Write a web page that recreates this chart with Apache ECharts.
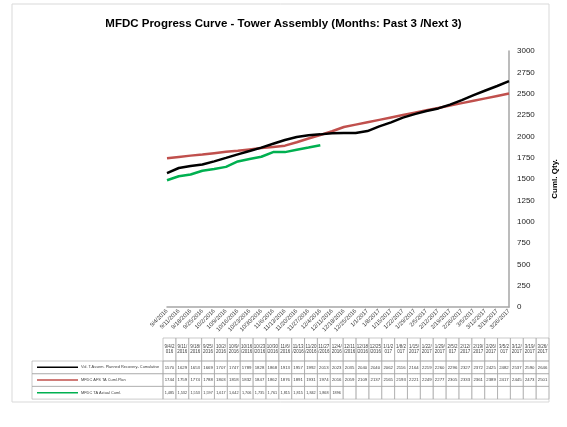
<!DOCTYPE html>
<html>
<head>
<meta charset="utf-8">
<script src="https://cdn.jsdelivr.net/npm/echarts@6/dist/echarts.min.js"></script>
<style>
html, body { margin: 0; padding: 0; background: #fff; }
#chart { width: 567px; height: 427px; }
</style>
</head>
<body>
<div id="chart"></div>
<script>
// weekly dates, past 3 / next 3 months
var weeks = ['9/4/2016', '9/11/2016', '9/18/2016', '9/25/2016', '10/2/2016', '10/9/2016',
  '10/16/2016', '10/23/2016', '10/30/2016', '11/6/2016', '11/13/2016', '11/20/2016',
  '11/27/2016', '12/4/2016', '12/11/2016', '12/18/2016', '12/25/2016', '1/1/2017',
  '1/8/2017', '1/15/2017', '1/22/2017', '1/29/2017', '2/5/2017', '2/12/2017',
  '2/19/2017', '2/26/2017', '3/5/2017', '3/12/2017', '3/19/2017', '3/26/2017'];

var plannedRecovery = [1570, 1629, 1653, 1669, 1707, 1747, 1789, 1828, 1868, 1913, 1957, 1992, 2013, 2023, 2035,
  2040, 2040, 2062, 2116, 2164, 2219, 2260, 2296, 2327, 2372, 2425, 2482, 2537, 2590, 2646];
var afsPlan = [1744, 1759, 1774, 1788, 1803, 1818, 1832, 1847, 1862, 1876, 1891, 1931, 1974, 2016, 2059,
  2109, 2137, 2165, 2193, 2221, 2249, 2277, 2305, 2333, 2361, 2389, 2417, 2445, 2473, 2501];
var actual = [1485, 1532, 1553, 1597, 1617, 1642, 1706, 1735, 1761, 1815, 1815, 1842, 1868, 1896];

var seriesNames = ['Vol. T.Assem. Planned Recovery- Cumulative', 'MFDC AFS TA Cuml.Plan', 'MFDC TA Actual Cuml.'];
var seriesColors = ['#000000', '#c0504d', '#00b050'];

var yTicks = [0, 3000, 250];

var myChart = echarts.init(document.getElementById('chart'));

// data table below the plot
var tblLeft = 163, tblRight = 549, tblTop = 338, headH = 23, rowH = 12.7, keyLeft = 32;
var colW = (tblRight - tblLeft) / weeks.length;
var rows = [plannedRecovery, afsPlan, actual];
var gfx = [];
var lineCol = '#a6a6a6';

// outer chart border
gfx.push({ type: 'rect', shape: { x: 12, y: 4, width: 537, height: 398 }, style: { fill: null, stroke: '#d9d9d9', lineWidth: 1 }, silent: true });

// header cells
weeks.forEach(function (w, i) {
  var x = tblLeft + i * colW;
  gfx.push({ type: 'rect', shape: { x: x, y: tblTop, width: colW, height: headH }, style: { fill: null, stroke: lineCol, lineWidth: 0.6 } });
  gfx.push({ type: 'text', x: x + colW / 2, y: tblTop + headH / 2, style: {
    text: w, width: colW - 1, overflow: 'breakAll', align: 'center', verticalAlign: 'middle',
    fontSize: 4.5, lineHeight: 5.5, fill: '#404040', fontFamily: 'Liberation Sans' } });
});

// value rows + legend key column
rows.forEach(function (vals, r) {
  var y = tblTop + headH + r * rowH;
  gfx.push({ type: 'rect', shape: { x: keyLeft, y: y, width: tblLeft - keyLeft, height: rowH }, style: { fill: null, stroke: lineCol, lineWidth: 0.6 } });
  gfx.push({ type: 'line', shape: { x1: keyLeft + 5, y1: y + rowH / 2, x2: keyLeft + 46, y2: y + rowH / 2 }, style: { stroke: seriesColors[r], lineWidth: 1.5 } });
  gfx.push({ type: 'text', x: keyLeft + 49, y: y + rowH / 2, style: {
    text: seriesNames[r], verticalAlign: 'middle', fontSize: 3.9, fill: '#404040', fontFamily: 'Liberation Sans' } });
  weeks.forEach(function (w, i) {
    var x = tblLeft + i * colW;
    gfx.push({ type: 'rect', shape: { x: x, y: y, width: colW, height: rowH }, style: { fill: null, stroke: lineCol, lineWidth: 0.6 } });
    if (i < vals.length) {
      var t = r === 2 && i < vals.length - 1 ? vals[i].toLocaleString('en-US') : String(vals[i]);
      gfx.push({ type: 'text', x: x + colW / 2, y: y + rowH / 2, style: {
        text: t, align: 'center', verticalAlign: 'middle', fontSize: r === 2 ? 3.8 : 4.3, fill: '#404040', fontFamily: 'Liberation Sans' } });
    }
  });
});

var lineData = [plannedRecovery, afsPlan, actual];

var option = {
  animation: false,
  backgroundColor: '#fff',
  title: {
    text: 'MFDC Progress Curve - Tower Assembly (Months: Past 3 /Next 3)',
    left: 'center',
    top: 13,
    textStyle: { fontSize: 11.5, fontWeight: 'bold', color: '#000', fontFamily: 'Liberation Sans' }
  },
  grid: { left: 167, right: 58, top: 51, bottom: 120 },
  xAxis: {
    type: 'category',
    data: weeks,
    boundaryGap: false,
    axisLine: { lineStyle: { color: '#a6a6a6', width: 1.5 } },
    axisTick: { show: false },
    axisLabel: { rotate: 45, interval: 0, fontSize: 5.8, color: '#404040', margin: 3, fontFamily: 'Liberation Sans' }
  },
  yAxis: {
    type: 'value',
    position: 'right',
    min: yTicks[0],
    max: yTicks[1],
    interval: yTicks[2],
    name: 'Cuml. Qty.',
    nameLocation: 'middle',
    nameGap: 42,
    nameRotate: 90,
    nameTextStyle: { fontSize: 8, fontWeight: 'bold', color: '#000', fontFamily: 'Liberation Sans' },
    axisLine: { show: true, lineStyle: { color: '#a6a6a6', width: 1.5 } },
    axisTick: { show: false },
    splitLine: { show: false },
    axisLabel: { fontSize: 8, color: '#222', margin: 8, fontFamily: 'Liberation Sans', formatter: function (v) { return String(v); } }
  },
  series: lineData.map(function (d, i) {
    return {
      name: seriesNames[i],
      type: 'line',
      data: d,
      symbol: 'none',
      lineStyle: { color: seriesColors[i], width: 2.5 },
      z: 3 - i
    };
  }),
  graphic: gfx
};
myChart.setOption(option);
</script>
</body>
</html>
